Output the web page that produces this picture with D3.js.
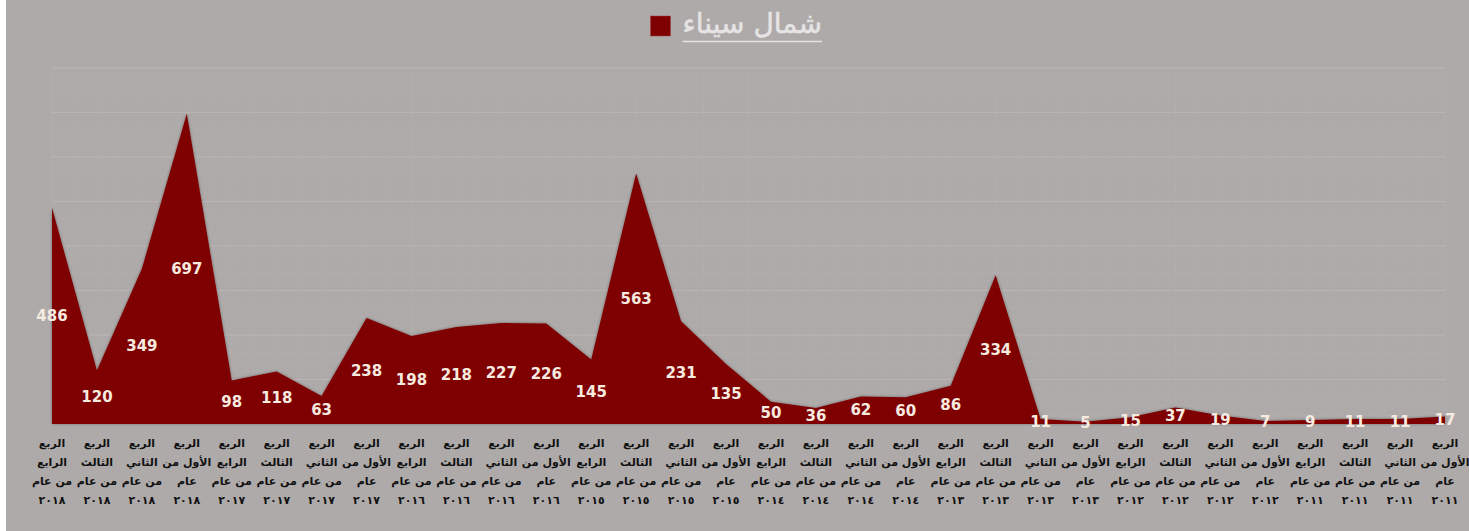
<!DOCTYPE html>
<html>
<head>
<meta charset="utf-8">
<script src="https://cdn.jsdelivr.net/npm/d3@7"></script>
<style>
  html, body { margin: 0; padding: 0; background: #fff; }
  svg { display: block; }
</style>
</head>
<body>
<div id="chart"></div>
<script>
// Dati: trimestri dal più recente (sinistra) al più vecchio (destra)
const quarters = [
  "الرابع", "الثالث", "الثاني", "الأول",
  "الرابع", "الثالث", "الثاني", "الأول",
  "الرابع", "الثالث", "الثاني", "الأول",
  "الرابع", "الثالث", "الثاني", "الأول",
  "الرابع", "الثالث", "الثاني", "الأول",
  "الرابع", "الثالث", "الثاني", "الأول",
  "الرابع", "الثالث", "الثاني", "الأول",
  "الرابع", "الثالث", "الثاني", "الأول",
];
const years = [
  "٢٠١٨", "٢٠١٨", "٢٠١٨", "٢٠١٨",
  "٢٠١٧", "٢٠١٧", "٢٠١٧", "٢٠١٧",
  "٢٠١٦", "٢٠١٦", "٢٠١٦", "٢٠١٦",
  "٢٠١٥", "٢٠١٥", "٢٠١٥", "٢٠١٥",
  "٢٠١٤", "٢٠١٤", "٢٠١٤", "٢٠١٤",
  "٢٠١٣", "٢٠١٣", "٢٠١٣", "٢٠١٣",
  "٢٠١٢", "٢٠١٢", "٢٠١٢", "٢٠١٢",
  "٢٠١١", "٢٠١١", "٢٠١١", "٢٠١١",
];
const values = [
  486, 120, 349, 697, 98, 118, 63, 238, 198, 218, 227, 226, 145, 563, 231, 135,
  50, 36, 62, 60, 86, 334, 11, 5, 15, 37, 19, 7, 9, 11, 11, 17,
];
const seriesName = "شمال سيناء";
const yTicks = [0, 100, 200, 300, 400, 500, 600, 700, 800];

const categories = quarters.map((q, i) => `الربع ${q} من عام ${years[i]}`);
const data = categories.map((c, i) => ({ cat: c, q: quarters[i], year: years[i], value: values[i] }));

const width = 1469;
const height = 531;
const FONT = "'DejaVu Sans', sans-serif";

const svg = d3.select("#chart").append("svg").attr("width", width).attr("height", height);

// Sfondo
svg.append("rect").attr("width", width).attr("height", height).attr("fill", "#ffffff");
svg.append("rect").attr("x", 6).attr("width", width - 6).attr("height", height).attr("fill", "#aeaaaa");

const x = d3.scalePoint().domain(categories).range([52, 1445]);
const y = d3.scaleLinear().domain([0, 800]).range([424, 68]);
const step = x.step();

// Griglia (minore ogni 20, principale ogni 100)
const grid = svg.append("g");
categories.forEach((c, i) => {
  const xs = [x(c)];
  if (i < categories.length - 1) xs.push(x(c) + step / 2);
  xs.forEach((xx) => {
    grid.append("line")
      .attr("x1", xx).attr("x2", xx)
      .attr("y1", y(800)).attr("y2", y(0))
      .attr("stroke", "#b1adad")
      .attr("stroke-width", 1);
  });
});
d3.range(0, 801, 20).forEach((v) => {
  if (yTicks.includes(v)) return;
  grid.append("line")
    .attr("x1", 52).attr("x2", 1445)
    .attr("y1", y(v)).attr("y2", y(v))
    .attr("stroke", "#b1adad")
    .attr("stroke-width", 1);
});
yTicks.forEach((v) => {
  grid.append("line")
    .attr("x1", 52).attr("x2", 1445)
    .attr("y1", y(v)).attr("y2", y(v))
    .attr("stroke", "#b9b5b5")
    .attr("stroke-width", 1.2);
});

// Ombra leggera
const defs = svg.append("defs");
const f = defs.append("filter").attr("id", "soft").attr("x", "-5%").attr("y", "-5%").attr("width", "110%").attr("height", "110%");
f.append("feGaussianBlur").attr("in", "SourceAlpha").attr("stdDeviation", 1.5).attr("result", "b");
f.append("feComponentTransfer").append("feFuncA").attr("type", "linear").attr("slope", 0.4);
const merge = f.append("feMerge");
merge.append("feMergeNode");
merge.append("feMergeNode").attr("in", "SourceGraphic");

// Area
const area = d3.area()
  .x((d) => x(d.cat))
  .y0(y(0))
  .y1((d) => y(d.value));

svg.append("path")
  .datum(data)
  .attr("d", area)
  .attr("fill", "#7f0000")
  .attr("filter", "url(#soft)");

// Etichette valori (al centro dell'area)
svg.append("g")
  .selectAll("text")
  .data(data)
  .join("text")
  .attr("x", (d) => x(d.cat))
  .attr("y", (d) => y(d.value / 2))
  .attr("text-anchor", "middle")
  .attr("dominant-baseline", "central")
  .attr("font-family", FONT)
  .attr("font-size", 15)
  .attr("font-weight", "bold")
  .attr("fill", "#f7ebe0")
  .text((d) => d.value);

// Etichette categorie (asse x)
function catLines(d) {
  if (d.q === "الأول") return ["الربع", "الأول من", "عام", d.year];
  return ["الربع", d.q, "من عام", d.year];
}
const xLabels = svg.append("g");
data.forEach((d) => {
  const t = xLabels.append("text")
    .attr("x", x(d.cat))
    .attr("text-anchor", "middle")
    .attr("direction", "rtl")
    .attr("font-family", FONT)
    .attr("font-size", 11)
    .attr("font-weight", "bold")
    .attr("fill", "#111");
  catLines(d).forEach((line, k) => {
    t.append("tspan")
      .attr("x", x(d.cat))
      .attr("y", 447 + k * 19)
      .text(line);
  });
});

// Titolo con legenda
const title = svg.append("text")
  .attr("x", 822).attr("y", 33)
  .attr("text-anchor", "end")
  .attr("font-family", FONT)
  .attr("font-size", 28)
  .attr("fill", "#e6e4e4")
  .attr("stroke", "#e6e4e4")
  .attr("stroke-width", 0.5)
  .text(seriesName);
const tb = title.node().getBBox();
svg.append("line")
  .attr("x1", tb.x).attr("x2", tb.x + tb.width)
  .attr("y1", 41.5).attr("y2", 41.5)
  .attr("stroke", "#e6e4e4").attr("stroke-width", 1.5);
svg.append("rect")
  .attr("x", tb.x - 32).attr("y", 16)
  .attr("width", 20).attr("height", 20)
  .attr("fill", "#7f0000")
  .attr("stroke", "#a04040").attr("stroke-width", 0.5);
</script>
</body>
</html>
